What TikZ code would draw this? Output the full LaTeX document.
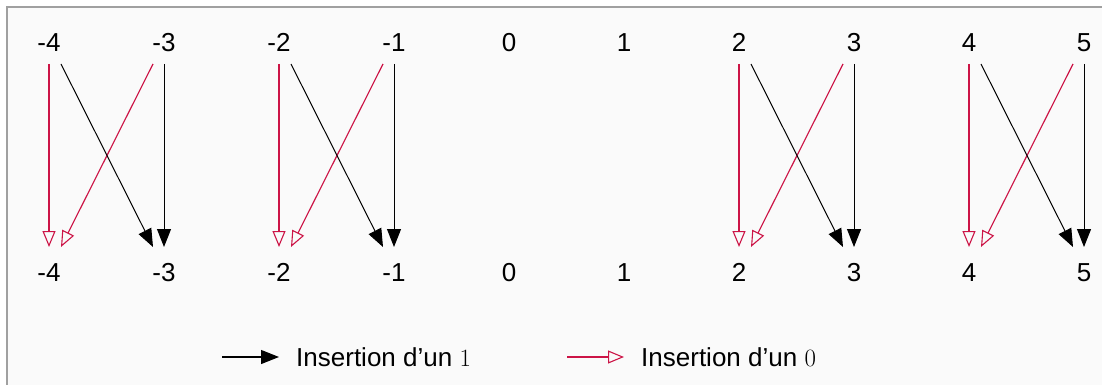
\documentclass[tikz,border=0pt]{standalone}
\usepackage{fontspec}
\setmainfont{Liberation Sans}
\usetikzlibrary{arrows.meta}
\definecolor{zred}{RGB}{204,20,70}
\definecolor{framegray}{RGB}{160,160,160}
\definecolor{bgfill}{RGB}{250,250,250}
\begin{document}
\begin{tikzpicture}[x=1pt,y=-1pt,
  lab/.style={font=\fontsize{26}{30}\selectfont, inner sep=0pt, text height=18.5pt, text depth=0pt},
  leg/.style={font=\fontsize{26}{30}\selectfont, inner sep=0pt, anchor=west, text height=18.5pt, text depth=0pt},
  one/.style={draw=black, line width=1pt, -{Triangle[length=18pt,width=14pt]}},
  zero/.style={draw=zred, line width=1.15pt, -{Triangle[open,length=16pt,width=13pt,line width=1.1pt]}}]
\useasboundingbox (0,0) rectangle (1102,385);
\clip (0,0) rectangle (1102,385);
\draw[framegray, fill=bgfill, line width=1.5pt] (7,7) rectangle (1120,400);
% labels
\foreach \v [count=\i from 0] in {-4,-3,-2,-1,0,1,2,3,4,5} {
  \node[lab] (t\i) at (49+115*\i,42) {\v};
  \node[lab] (b\i) at (49+115*\i,272) {\v};
}
% arrow end points
\foreach \i in {0,2,6,8} {
  \coordinate (sl\i) at (49+115*\i,64);
  \coordinate (sm\i) at (61+115*\i,64);
  \coordinate (sn\i) at (153+115*\i,64);
  \coordinate (sr\i) at (164+115*\i,64);
  \coordinate (el\i) at (49+115*\i,247);
  \coordinate (em\i) at (61+115*\i,247);
  \coordinate (en\i) at (153+115*\i,247);
  \coordinate (er\i) at (164+115*\i,247);
  \draw[zero] (sl\i) -- (el\i);
  \draw[zero] (sn\i) -- (em\i);
  \draw[one] (sm\i) -- (en\i);
  \draw[one] (sr\i) -- (er\i);
}
% legend
\coordinate (la) at (222,357);
\coordinate (lb) at (279,357);
\coordinate (lc) at (567,357);
\coordinate (ld) at (624,357);
\draw[one, line width=1.1pt] (la) -- (lb);
\node[leg] (l1) at (296,357) {Insertion d’un $1$};
\draw[zero, line width=1.2pt] (lc) -- (ld);
\node[leg] (l0) at (641,357) {Insertion d’un $0$};
\end{tikzpicture}
\end{document}
